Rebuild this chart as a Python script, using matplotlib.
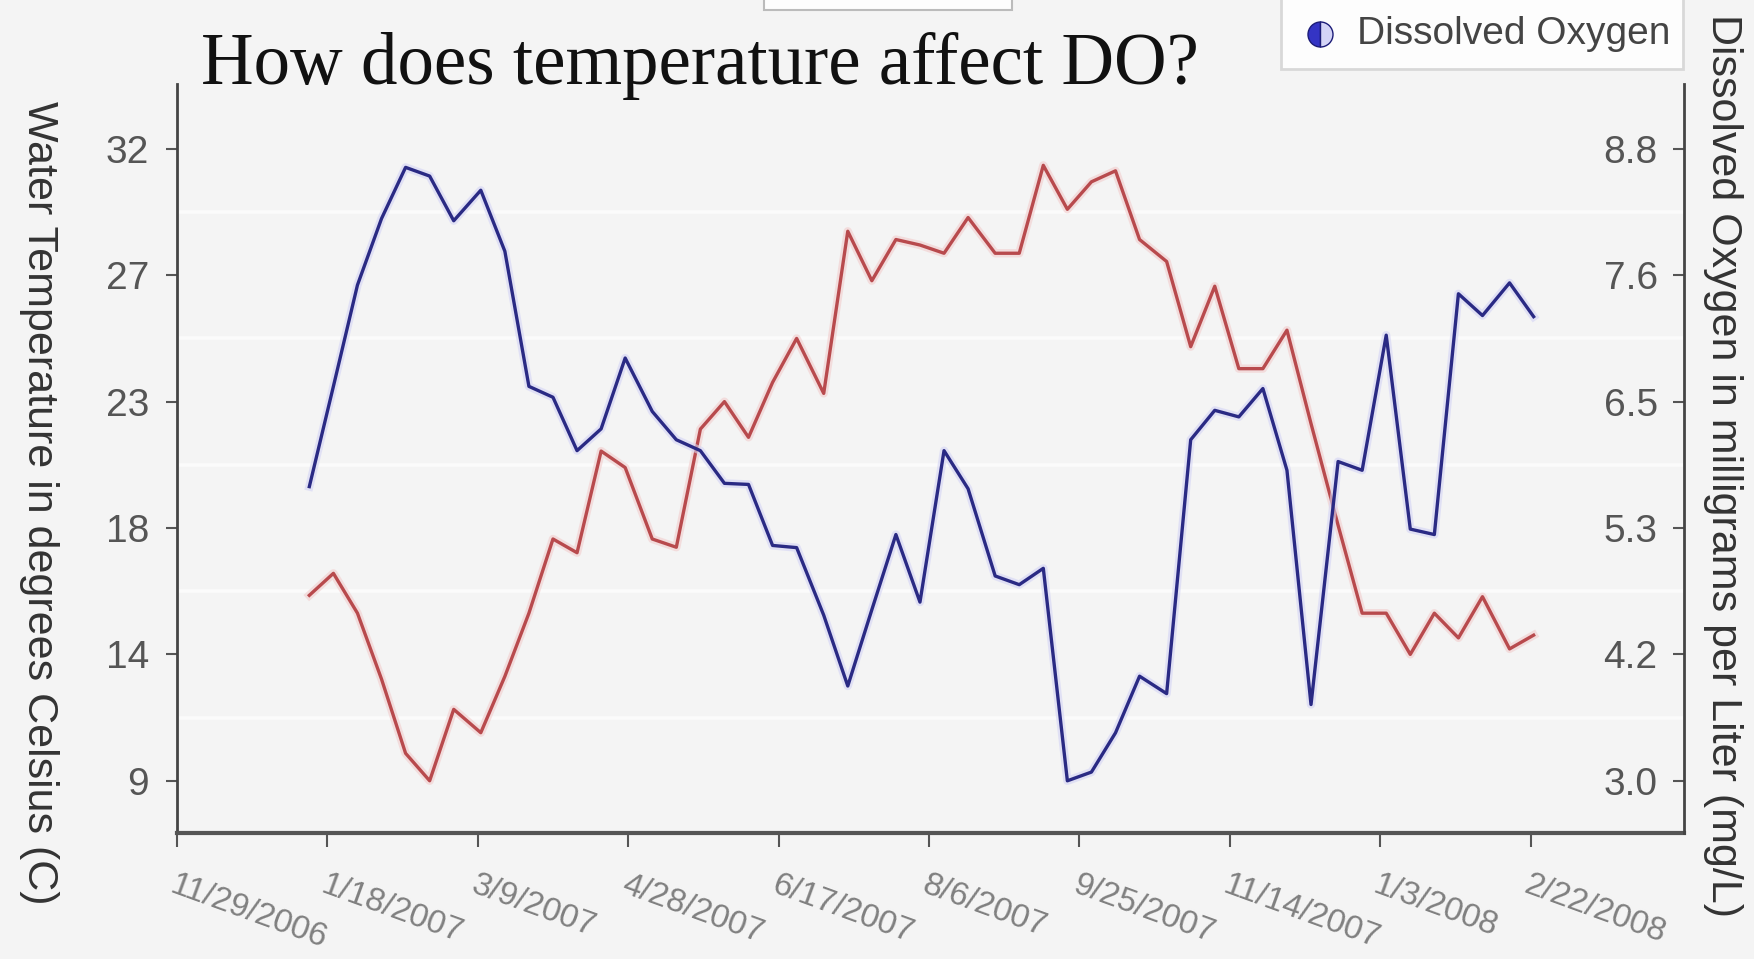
import matplotlib
matplotlib.use("Agg")
import matplotlib.pyplot as plt
import matplotlib.dates as mdates
from matplotlib.lines import Line2D
from matplotlib.patches import Rectangle
import numpy as np
import pandas as pd

# ---------------- data ----------------
title = "How does temperature affect DO?"
temp_axis_label = "Water Temperature in degrees Celsius (C)"
do_axis_label = "Dissolved Oxygen in milligrams per Liter (mg/L)"
do_series_name = "Dissolved Oxygen"

sample_dates = ["2007-01-12", "2007-01-20", "2007-01-28", "2007-02-05", "2007-02-13",
                "2007-02-21", "2007-03-01", "2007-03-10", "2007-03-18", "2007-03-26",
                "2007-04-03", "2007-04-11", "2007-04-19", "2007-04-27", "2007-05-06",
                "2007-05-14", "2007-05-22", "2007-05-30", "2007-06-07", "2007-06-15",
                "2007-06-23", "2007-07-02", "2007-07-10", "2007-07-18", "2007-07-26",
                "2007-08-03", "2007-08-11", "2007-08-19", "2007-08-28", "2007-09-05",
                "2007-09-13", "2007-09-21", "2007-09-29", "2007-10-07", "2007-10-15",
                "2007-10-24", "2007-11-01", "2007-11-09", "2007-11-17", "2007-11-25",
                "2007-12-03", "2007-12-11", "2007-12-20", "2007-12-28", "2008-01-05",
                "2008-01-13", "2008-01-21", "2008-01-29", "2008-02-06", "2008-02-15",
                "2008-02-23"]

water_temp = [15.75, 16.55, 15.1, 12.7, 10.0, 9.0, 11.6, 10.75, 12.8, 15.1,
              17.8, 17.3, 21.0, 20.4, 17.8, 17.5, 21.8, 22.8, 21.5, 23.5,
              25.1, 23.1, 29.0, 27.2, 28.7, 28.5, 28.2, 29.5, 28.2, 28.2,
              31.4, 29.8, 30.8, 31.2, 28.7, 27.9, 24.8, 27.0, 24.0, 24.0,
              25.4, 22.0, 18.3, 15.1, 15.1, 13.6, 15.1, 14.2, 15.7, 13.8,
              14.3]

dissolved_oxygen = [5.70, 6.62, 7.55, 8.16, 8.63, 8.55, 8.14, 8.42, 7.86, 6.62,
                    6.52, 6.03, 6.23, 6.88, 6.39, 6.13, 6.03, 5.73, 5.72, 5.16,
                    5.14, 4.52, 3.87, 4.57, 5.26, 4.64, 6.03, 5.68, 4.88, 4.80,
                    4.95, 3.00, 3.08, 3.44, 3.96, 3.80, 6.13, 6.40, 6.34, 6.60,
                    5.85, 3.70, 5.93, 5.85, 7.09, 5.31, 5.26, 7.47, 7.27, 7.57,
                    7.26]

x_tick_dates = ["2006-11-29", "2007-01-18", "2007-03-09", "2007-04-28", "2007-06-17",
                "2007-08-06", "2007-09-25", "2007-11-14", "2008-01-03", "2008-02-22"]
x_tick_labels = ["11/29/2006", "1/18/2007", "3/9/2007", "4/28/2007", "6/17/2007",
                 "8/6/2007", "9/25/2007", "11/14/2007", "1/3/2008", "2/22/2008"]

temp_ticks = [9.0, 13.6, 18.2, 22.8, 27.4, 32.0]
temp_tick_labels = ["9", "14", "18", "23", "27", "32"]
do_ticks = [3.0, 4.16, 5.32, 6.48, 7.64, 8.8]
do_tick_labels = ["3.0", "4.2", "5.3", "6.5", "7.6", "8.8"]

x_range = ["2006-11-29", "2008-04-13"]
temp_range = [7.10, 34.36]
do_range = [2.521, 9.395]

# ---------------- style ----------------
plt.rcParams["font.family"] = ["Liberation Sans", "DejaVu Sans"]
bg = "#f4f4f4"

fig = plt.figure(figsize=(17.54, 9.59), dpi=100, facecolor=bg)
ax = fig.add_axes([0.1009, 0.1314, 0.8592, 0.7810], facecolor=bg)
ax2 = ax.twinx()

dates = pd.to_datetime(sample_dates)

# light halos + lines
ax.plot(dates, water_temp, color="#f2cccc", lw=6, alpha=0.6, zorder=2)
ax.plot(dates, water_temp, color="#b84a4d", lw=2.4, zorder=3)
ax2.plot(dates, dissolved_oxygen, color="#d4d4f4", lw=6, alpha=0.6, zorder=2)
ax2.plot(dates, dissolved_oxygen, color="#2a2a84", lw=2.4, zorder=3)

# limits
ax.set_xlim(pd.to_datetime(x_range[0]), pd.to_datetime(x_range[1]))
ax.set_ylim(*temp_range)
ax2.set_ylim(*do_range)

# x ticks
ax.set_xticks(pd.to_datetime(x_tick_dates))
ax.set_xticklabels(x_tick_labels)
ax.tick_params(axis="x", length=10, width=1.5, color="#555555", pad=16,
               labelsize=24, labelcolor="#808080")
plt.setp(ax.get_xticklabels(), rotation=-20, ha="left", va="top", rotation_mode="anchor")

# left y ticks
ax.set_yticks(temp_ticks)
ax.set_yticklabels(temp_tick_labels)
ax.tick_params(axis="y", length=8, width=1.5, color="#555555", pad=12,
               labelsize=28, labelcolor="#555555")

# gridlines midway between the ticks
mids = (np.array(temp_ticks[:-1]) + np.array(temp_ticks[1:])) / 2
ax.set_yticks(mids, minor=True)
ax.tick_params(axis="y", which="minor", length=0)
ax.grid(axis="y", which="minor", color="#fbfbfb", lw=2.6, zorder=0)
ax.grid(axis="y", which="major", visible=False)
ax.set_axisbelow(True)

# right y ticks (labels inside)
ax2.set_yticks(do_ticks)
ax2.set_yticklabels(do_tick_labels)
ax2.tick_params(axis="y", direction="in", length=8, width=1.5, color="#555555",
                pad=-19, labelsize=28, labelcolor="#555555")
plt.setp(ax2.get_yticklabels(), ha="right")

# spines
for a in (ax, ax2):
    a.spines["top"].set_visible(False)
ax.spines["right"].set_visible(False)
ax2.spines["left"].set_visible(False)
ax2.spines["bottom"].set_visible(False)
ax.spines["left"].set_color("#444444")
ax.spines["left"].set_linewidth(2.0)
ax.spines["bottom"].set_color("#555555")
ax.spines["bottom"].set_linewidth(3.0)
ax2.spines["right"].set_color("#444444")
ax2.spines["right"].set_linewidth(2.0)

# title and axis titles
fig.text(0.1146, 0.9124, title, family=["Liberation Serif", "DejaVu Serif"],
         fontsize=52.5, ha="left", va="baseline", color="#111111")
fig.text(0.0222, 0.4755, temp_axis_label, rotation=270, ha="center", va="center",
         fontsize=31, color="#333333")
fig.text(0.9822, 0.515, do_axis_label, rotation=270, ha="center", va="center",
         fontsize=31, color="#333333")

# legend box (top right)
fig.add_artist(Rectangle((1281 / 1754, 1 - 69 / 959), (1683 - 1281) / 1754, 69 / 959 + 0.01,
                         transform=fig.transFigure, facecolor="#fdfdfd",
                         edgecolor="#d8d8d8", lw=2, zorder=5))
fig.add_artist(Line2D([0.7526], [0.965], marker="o", markersize=18, linestyle="none",
                      markerfacecolor="#3434c4", markerfacecoloralt="#d4d4f6",
                      fillstyle="left", markeredgecolor="#1c1c78", markeredgewidth=1,
                      transform=fig.transFigure, zorder=6))
fig.text(0.7737, 0.965, do_series_name, fontsize=28, ha="left", va="center",
         color="#444444", zorder=6)

# partially visible box at the top center
fig.add_artist(Rectangle((764 / 1754, 1 - 10 / 959), 248 / 1754, 0.02,
                         transform=fig.transFigure, facecolor="#fdfdfd",
                         edgecolor="#bbbbbb", lw=1.5, zorder=5))

fig.savefig("out.png", dpi=100, facecolor=bg)
